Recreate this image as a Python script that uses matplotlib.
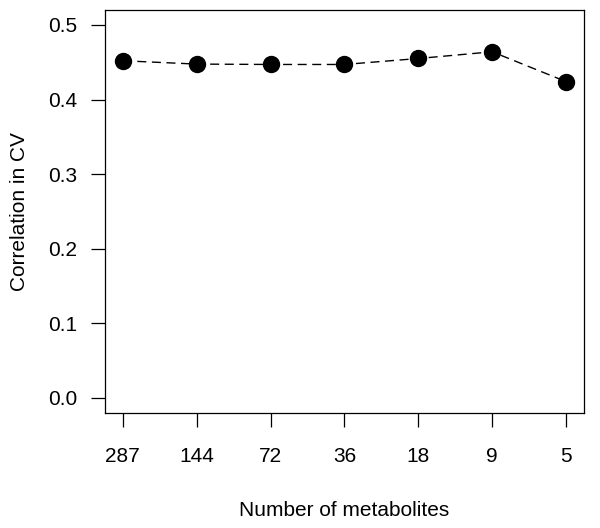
import numpy as np
import matplotlib
matplotlib.use('Agg')
import matplotlib.pyplot as plt

plt.rcParams['font.family'] = ['Liberation Sans', 'DejaVu Sans']

# Data
n_metabolites = ['287', '144', '72', '36', '18', '9', '5']
correlation   = [0.452, 0.4475, 0.447, 0.447, 0.455, 0.464, 0.424]
y_ticks       = [0.0, 0.1, 0.2, 0.3, 0.4, 0.5]

x = np.arange(1, len(n_metabolites) + 1)

fig = plt.figure(figsize=(6.0, 5.28), dpi=100)
ax = fig.add_axes([0.175, 0.2184, 0.798, 0.7626])

line, = ax.plot(x, correlation, color='black', lw=1.0, linestyle='--',
                marker='o', markersize=11.5, markerfacecolor='black',
                markeredgecolor='black')
line.set_dashes((6.5, 4))

ax.set_xlim(0.76, 7.24)
ax.set_ylim(-0.02, 0.52)
ax.set_xticks(x)
ax.set_xticklabels(n_metabolites)
ax.set_yticks(y_ticks)
ax.set_yticklabels(['%.1f' % v for v in y_ticks])

ax.tick_params(axis='both', direction='out', length=10, width=0.9,
               labelsize=15, color='black')
ax.tick_params(axis='x', pad=15)
ax.tick_params(axis='y', pad=10)
for s in ax.spines.values():
    s.set_linewidth(0.9)

ax.set_xlabel('Number of metabolites', fontsize=15, labelpad=25)
ax.set_ylabel('Correlation in CV', fontsize=15, labelpad=14)

fig.savefig('out.png', dpi=100)
